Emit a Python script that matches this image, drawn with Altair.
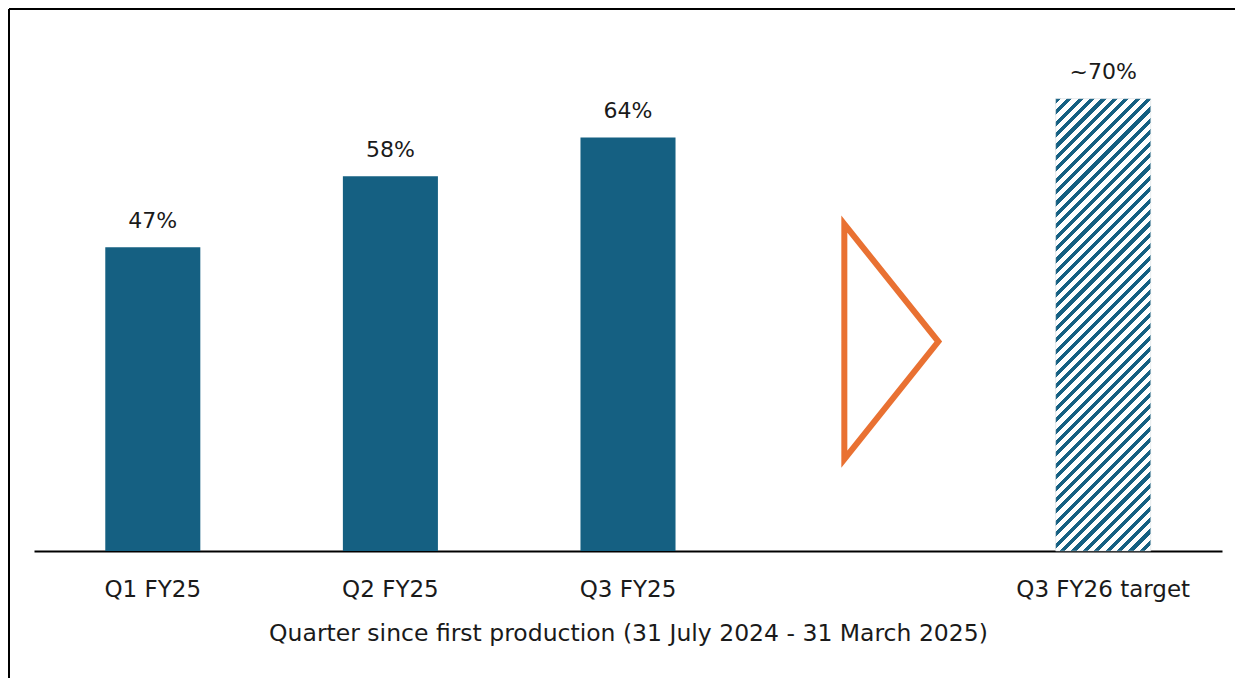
import altair as alt
import pandas as pd

categories = ["Q1 FY25", "Q2 FY25", "Q3 FY25", " ", "Q3 FY26 target"]
bar_quarters = ["Q1 FY25", "Q2 FY25", "Q3 FY25", "Q3 FY26 target"]
bar_values = [47, 58, 64, 70]
bar_labels = ["47%", "58%", "64%", "~70%"]
is_target = [False, False, False, True]
x_title = "Quarter since first production (31 July 2024 - 31 March 2025)"

BLUE = "#156082"
ORANGE = "#E97132"
FONT = "DejaVu Sans"

df = pd.DataFrame({"quarter": bar_quarters, "value": bar_values,
                   "label": bar_labels, "target": is_target})
arrow_df = pd.DataFrame({"quarter": [" "], "value": [32.4]})

W, H = 1188, 517
YMAX = 80

x = alt.X("quarter:N", scale=alt.Scale(domain=categories, paddingInner=0.6, paddingOuter=0.3),
          sort=categories,
          axis=alt.Axis(title=x_title, labelAngle=0, ticks=False, domainColor="black",
                        domainWidth=2, labelFont=FONT, labelFontSize=23, labelColor="#1a1a1a",
                        labelPadding=27, titleFont=FONT, titleFontSize=23.5, titleFontWeight="normal",
                        titleColor="#1a1a1a", titlePadding=20, grid=False))
y = alt.Y("value:Q", scale=alt.Scale(domain=[0, YMAX]), axis=None)

base = alt.Chart(df).encode(x=x, y=y)

solid = base.mark_bar(color=BLUE).transform_filter("!datum.target")

# diagonal hatch pattern via sharp-stop linear gradient
bw = 0.4 * W / 5
bh = 70 * H / YMAX
a = bw / bh
s = (1 + a) / (1 + a * a)
n_periods = 48
stops = []
for i in range(n_periods):
    o0 = i / n_periods
    o1 = (i + 0.45) / n_periods
    o2 = (i + 1) / n_periods
    stops += [alt.GradientStop(offset=o0, color=BLUE), alt.GradientStop(offset=o1, color=BLUE),
              alt.GradientStop(offset=o1, color="white"), alt.GradientStop(offset=o2, color="white")]
hatch = alt.Gradient(gradient="linear", stops=stops, x1=0, y1=0, x2=s * a, y2=s)
hatched = base.mark_bar(fill=hatch, stroke="#d0d8dc", strokeWidth=0.5).transform_filter("datum.target")

labels = base.mark_text(baseline="alphabetic", dy=-19.5, font=FONT, fontSize=22,
                        color="#1a1a1a").encode(text="label:N")

arrow = alt.Chart(arrow_df).mark_point(
    shape="M-0.181,-1L0.619,0L-0.181,1Z", size=55225, filled=False,
    stroke=ORANGE, strokeWidth=6, opacity=1, strokeJoin="miter"
).encode(x=alt.X("quarter:N", scale=alt.Scale(domain=categories, paddingInner=0.6, paddingOuter=0.3)),
         y=alt.Y("value:Q", scale=alt.Scale(domain=[0, YMAX])))

frame_top = alt.Chart(arrow_df).mark_rule(color="black", strokeWidth=2).encode(
    x=alt.value(-25), x2=alt.value(W + 13), y=alt.value(-25))
frame_left = alt.Chart(arrow_df).mark_rule(color="black", strokeWidth=2).encode(
    x=alt.value(-25), y=alt.value(-25), y2=alt.value(H + 127))

chart = alt.layer(frame_top, frame_left, solid, hatched, labels, arrow).properties(
    width=W, height=H, autosize="none",
    padding={"left": 26, "top": 26, "right": 13, "bottom": 127},
    background="white"
).configure_view(stroke=None)

chart.save("out.html", embed_options={"renderer": "svg", "actions": False})
